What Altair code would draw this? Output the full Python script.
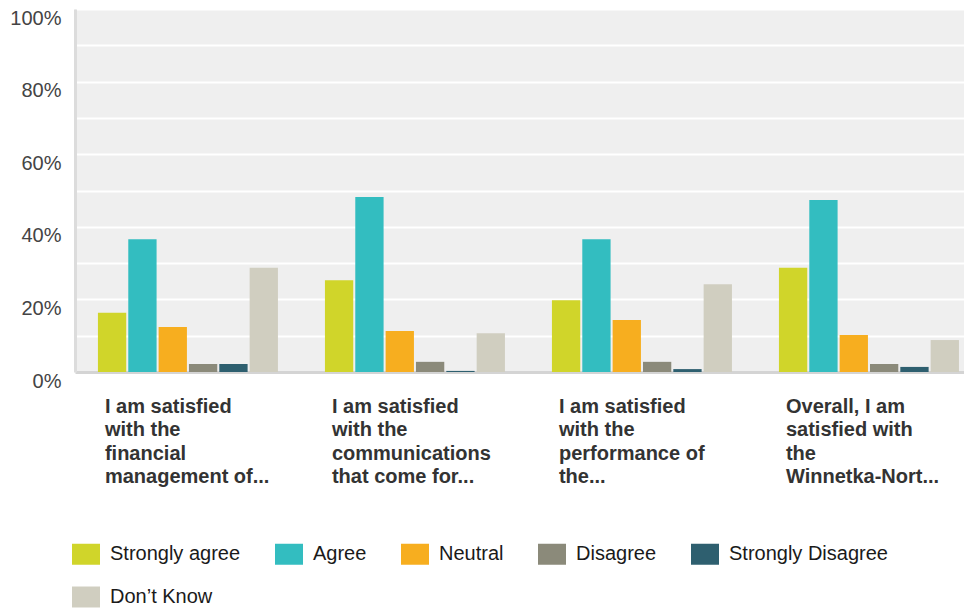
import altair as alt
import pandas as pd

categories = [
    "I am satisfied|with the|financial|management of...",
    "I am satisfied|with the|communications|that come for...",
    "I am satisfied|with the|performance of|the...",
    "Overall, I am|satisfied with|the|Winnetka-Nort...",
]
responses = ["Strongly agree", "Agree", "Neutral", "Disagree", "Strongly Disagree", "Don\u2019t Know"]
colors = ["#d0d52a", "#33bdc0", "#f7ae1f", "#8b8a7a", "#2e5f6f", "#d0cec0"]

strongly_agree = [16.3, 25.3, 19.8, 28.7]
agree = [36.6, 48.2, 36.6, 47.4]
neutral = [12.4, 11.3, 14.3, 10.2]
disagree = [2.2, 2.8, 2.8, 2.2]
strongly_disagree = [2.2, 0.3, 0.8, 1.4]
dont_know = [28.7, 10.7, 24.2, 8.8]

series = [strongly_agree, agree, neutral, disagree, strongly_disagree, dont_know]
rows = []
for resp, vals in zip(responses, series):
    for cat, v in zip(categories, vals):
        rows.append({"question": cat, "response": resp, "pct": v})
df = pd.DataFrame(rows)

FONT = "Liberation Sans"

chart = alt.Chart(df).mark_bar().encode(
    x=alt.X(
        "question:N",
        sort=categories,
        title=None,
        scale=alt.Scale(paddingInner=0.207, paddingOuter=0.0616, align=0.82),
        axis=alt.Axis(
            labelExpr="split(datum.label, '|')",
            labelAlign="left",
            labelBaseline="top",
            labelOffset=-83,
            labelPadding=24,
            labelAngle=0,
            labelFont=FONT,
            labelFontSize=20,
            labelFontWeight="bold",
            labelColor="#333333",
            labelLineHeight=23.5,
            labelLimit=400,
            ticks=False,
            tickSize=0,
            domainColor="#d4d4d4",
            domainWidth=3,
            grid=False,
        ),
    ),
    xOffset=alt.XOffset(
        "response:N",
        sort=responses,
        scale=alt.Scale(paddingInner=0.067, paddingOuter=0),
    ),
    y=alt.Y(
        "pct:Q",
        title=None,
        scale=alt.Scale(domain=[0, 100], nice=False),
        axis=alt.Axis(
            values=[0, 10, 20, 30, 40, 50, 60, 70, 80, 90, 100],
            labelExpr="datum.value % 20 == 0 ? datum.value + '%' : ''",
            labelFont=FONT,
            labelFontSize=20,
            labelColor="#444444",
            labelOffset=9,
            labelPadding=14,
            ticks=False,
            tickSize=0,
            domainColor="#dcdcdc",
            domainWidth=3,
            gridColor="#ffffff",
            gridWidth=2,
            gridOpacity=1,
            minExtent=67,
            maxExtent=67,
        ),
    ),
    color=alt.Color(
        "response:N",
        sort=responses,
        scale=alt.Scale(domain=responses, range=colors),
        legend=alt.Legend(
            title=None,
            orient="none",
            legendX=1,
            legendY=535,
            direction="horizontal",
            columns=5,
            columnPadding=34,
            rowPadding=21,
            symbolType="M-1.4,-1.05H1.4V1.05H-1.4Z",
            symbolSize=400,
            symbolStrokeWidth=0,
            symbolOpacity=1,
            labelFont=FONT,
            labelFontSize=20,
            labelColor="#1a1a1a",
            labelOffset=14,
            labelLimit=400,
            padding=0,
        ),
    ),
).properties(
    width=889,
    height=363,
    padding={"left": 0, "top": 0, "right": 0, "bottom": 0},
).configure_view(
    fill="#efefef",
    stroke=None,
)

chart.save("out.html", embed_options={"renderer": "svg", "actions": False})
